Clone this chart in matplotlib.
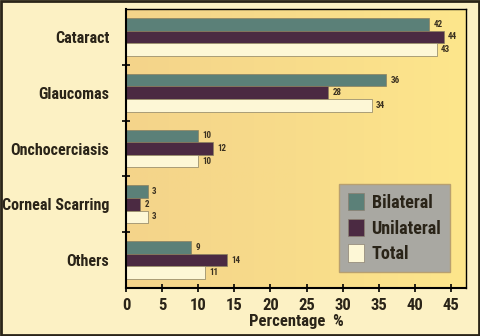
import numpy as np
import matplotlib
matplotlib.use("Agg")
import matplotlib.pyplot as plt
from matplotlib.patches import Rectangle
from matplotlib.colors import LinearSegmentedColormap

categories = ["Cataract", "Glaucomas", "Onchocerciasis", "Corneal Scarring", "Others"]
bilateral = [42, 36, 10, 3, 9]
unilateral = [44, 28, 12, 2, 14]
total = [43, 34, 10, 3, 11]
series_names = ["Bilateral", "Unilateral", "Total"]
xticks = [0, 5, 10, 15, 20, 25, 30, 35, 40, 45]

colors = ["#5b8078", "#4b2a42", "#fdf7d6"]
FONT = ["Roboto Condensed", "DejaVu Sans"]

fig = plt.figure(figsize=(4.8, 3.36), dpi=100)
fig.patch.set_facecolor("#fcf1c4")
ax = fig.add_axes([0.2625, 0.143, 0.7083, 0.830])

xmax = 47.08
grad = np.linspace(0, 1, 256).reshape(1, -1)
cmap = LinearSegmentedColormap.from_list("bg", ["#f4d48a", "#f8dc8a", "#fde68c"])
ax.imshow(grad, aspect="auto", cmap=cmap, extent=[0, xmax, 4.5, -0.5], zorder=0)

n = len(categories)
y = np.arange(n)
h = 0.225
for i, (vals, c) in enumerate(zip([bilateral, unilateral, total], colors)):
    pos = y - h + i * h
    ax.barh(pos, vals, height=h, color=c, edgecolor="#8a8060", linewidth=0.5,
            label=series_names[i], zorder=2)
    for p, v in zip(pos, vals):
        ax.text(v + 0.6, p, str(v), va="center", ha="left", fontsize=6.5,
                fontweight="bold", color="#3a3020", family=FONT, zorder=3)

ax.set_xlim(0, xmax)
ax.set_ylim(4.5, -0.5)
ax.set_xticks(xticks)
ax.set_xticklabels([str(t) for t in xticks], fontsize=12, fontweight="bold",
                   family=FONT, color="#2a2418")
ax.set_yticks(y)
ax.set_yticklabels(categories, fontsize=11.5, fontweight="bold", family=FONT,
                   color="#2a2418")
ax.tick_params(axis="y", length=0, pad=12)
ax.set_yticks([0.5, 1.5, 2.5, 3.5], minor=True)
ax.tick_params(axis="y", which="minor", length=6, width=1.2, direction="inout", color="black")
ax.tick_params(axis="x", length=6, width=1.2, direction="inout", color="black", pad=4)
ax.set_xlabel("Percentage  %", fontsize=12, fontweight="bold", family=FONT,
              color="#2a2418", labelpad=1)
for s in ["left", "bottom"]:
    ax.spines[s].set_linewidth(1.5)
for s in ["top", "right"]:
    ax.spines[s].set_linewidth(1.0)

leg = ax.legend(loc="upper left", bbox_to_anchor=(0.60, 0.405), frameon=True,
                fancybox=False, facecolor="#a9a8a2", edgecolor="#b8a070",
                framealpha=1, handlelength=0.9, handleheight=1.1,
                handletextpad=0.4, labelspacing=0.38, borderpad=0.5,
                prop={"family": FONT, "weight": "bold", "size": 13})
for t in leg.get_texts():
    t.set_color("#2a2418")
for hnd in leg.legend_handles:
    hnd.set_edgecolor("#8a8070")

fig.patches.append(Rectangle((0.002, 0.003), 0.996, 0.994, transform=fig.transFigure,
                             fill=False, edgecolor="#2a2418", linewidth=2))

fig.savefig("out.png", dpi=100, facecolor=fig.get_facecolor())
